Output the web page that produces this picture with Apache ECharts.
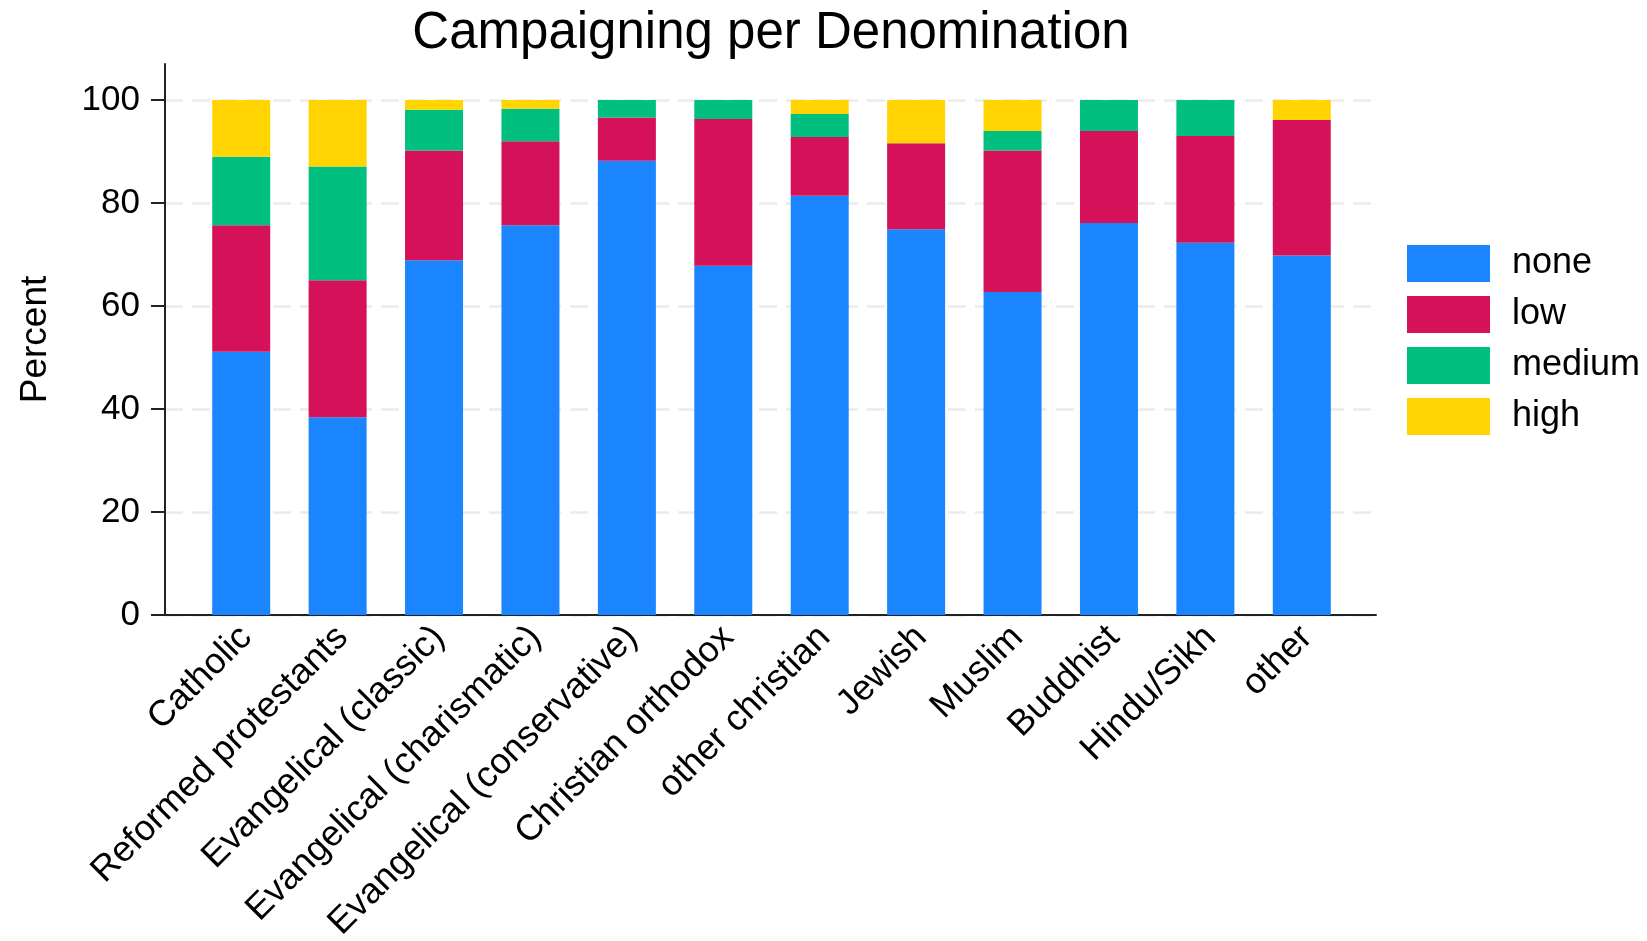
<!DOCTYPE html>
<html>
<head>
<meta charset="utf-8">
<title>Campaigning per Denomination</title>
<script src="https://cdn.jsdelivr.net/npm/echarts@6/dist/echarts.min.js"></script>
<style>
html, body {
  margin: 0;
  padding: 0;
  background: #ffffff;
}
#main {
  width: 1647px;
  height: 941px;
}
</style>
</head>
<body>
<div id="main"></div>
<script>
var denominations = [
  "Catholic",
  "Reformed protestants",
  "Evangelical (classic)",
  "Evangelical (charismatic)",
  "Evangelical (conservative)",
  "Christian orthodox",
  "other christian",
  "Jewish",
  "Muslim",
  "Buddhist",
  "Hindu/Sikh",
  "other"
];
var levels = ["none", "low", "medium", "high"];
var noneData = [51.1, 38.4, 68.9, 75.7, 88.2, 67.8, 81.4, 74.9, 62.7, 76.1, 72.3, 69.8];
var lowData = [24.6, 26.6, 21.3, 16.3, 8.4, 28.5, 11.4, 16.7, 27.5, 17.9, 20.7, 26.3];
var mediumData = [13.3, 22.1, 7.9, 6.3, 3.4, 3.7, 4.5, 0, 3.8, 6.0, 7.0, 0];
var highData = [11.0, 12.9, 1.9, 1.7, 0, 0, 2.7, 8.4, 6.0, 0, 0, 3.9];
var yTicks = [0, 20, 40, 60, 80, 100];

var colors = ["#1a85ff", "#d41159", "#00bf7f", "#ffd400"];
var font = "'Liberation Sans', Arial, Helvetica, sans-serif";

var myChart = echarts.init(document.getElementById("main"));

function barSeries(name, data) {
  return {
    name: name,
    type: "bar",
    stack: "total",
    xAxisIndex: 0,
    yAxisIndex: 0,
    barWidth: 58,
    data: data
  };
}

var option = {
  animation: false,
  color: colors,
  textStyle: { fontFamily: font },
  title: {
    text: "Campaigning per Denomination",
    left: 766,
    top: 3,
    textAlign: "center",
    textStyle: {
      fontFamily: font,
      fontSize: 51,
      fontWeight: "normal",
      color: "#000"
    }
  },
  legend: {
    data: levels,
    orient: "vertical",
    left: 1402,
    top: 240,
    icon: "rect",
    itemWidth: 83,
    itemHeight: 37,
    itemGap: 14,
    textStyle: {
      fontFamily: font,
      fontSize: 36,
      color: "#000",
      padding: [0, 0, 0, 17]
    }
  },
  grid: [
    // bars
    { left: 193, right: 297, top: 100, bottom: 326, outerBoundsMode: "none" },
    // frame: x axis line, y ticks, grid lines
    { left: 165, right: 271, top: 100, bottom: 326, outerBoundsMode: "none" },
    // y axis line goes a bit above 100
    { left: 165, right: 271, top: 64, bottom: 326, outerBoundsMode: "none" }
  ],
  xAxis: [
    {
      gridIndex: 0,
      type: "category",
      data: denominations,
      axisLine: { show: false },
      axisTick: { show: false },
      axisLabel: {
        interval: 0,
        rotate: 45,
        margin: 12,
        verticalAlign: "top",
        lineHeight: 14,
        fontFamily: font,
        fontSize: 36,
        color: "#000"
      }
    },
    {
      gridIndex: 1,
      type: "value",
      min: 0,
      max: 1,
      axisLine: { show: true, lineStyle: { color: "#222", width: 2 } },
      axisTick: { show: false },
      axisLabel: { show: false },
      splitLine: { show: false }
    },
    {
      gridIndex: 2,
      type: "value",
      min: 0,
      max: 1,
      show: false
    }
  ],
  yAxis: [
    {
      gridIndex: 0,
      type: "value",
      min: 0,
      max: 100,
      show: false
    },
    {
      gridIndex: 1,
      type: "value",
      min: 0,
      max: 100,
      interval: 20,
      axisLine: { show: false },
      axisTick: {
        show: true,
        length: 14,
        customValues: yTicks,
        lineStyle: { color: "#222", width: 2 }
      },
      axisLabel: {
        margin: 25,
        customValues: yTicks,
        fontFamily: font,
        fontSize: 35,
        color: "#000"
      },
      splitLine: {
        show: true,
        lineStyle: { color: "#ebebeb", width: 2.5, type: [18, 9] }
      }
    },
    {
      gridIndex: 2,
      type: "value",
      min: 0,
      max: 1,
      name: "Percent",
      nameLocation: "middle",
      nameGap: 111,
      nameTextStyle: {
        fontFamily: font,
        fontSize: 37,
        color: "#000"
      },
      axisLine: { show: true, lineStyle: { color: "#222", width: 2 } },
      axisTick: { show: false },
      axisLabel: { show: false },
      splitLine: { show: false }
    }
  ],
  series: [
    barSeries("none", noneData),
    barSeries("low", lowData),
    barSeries("medium", mediumData),
    barSeries("high", highData)
  ]
};

myChart.setOption(option);
</script>
</body>
</html>
